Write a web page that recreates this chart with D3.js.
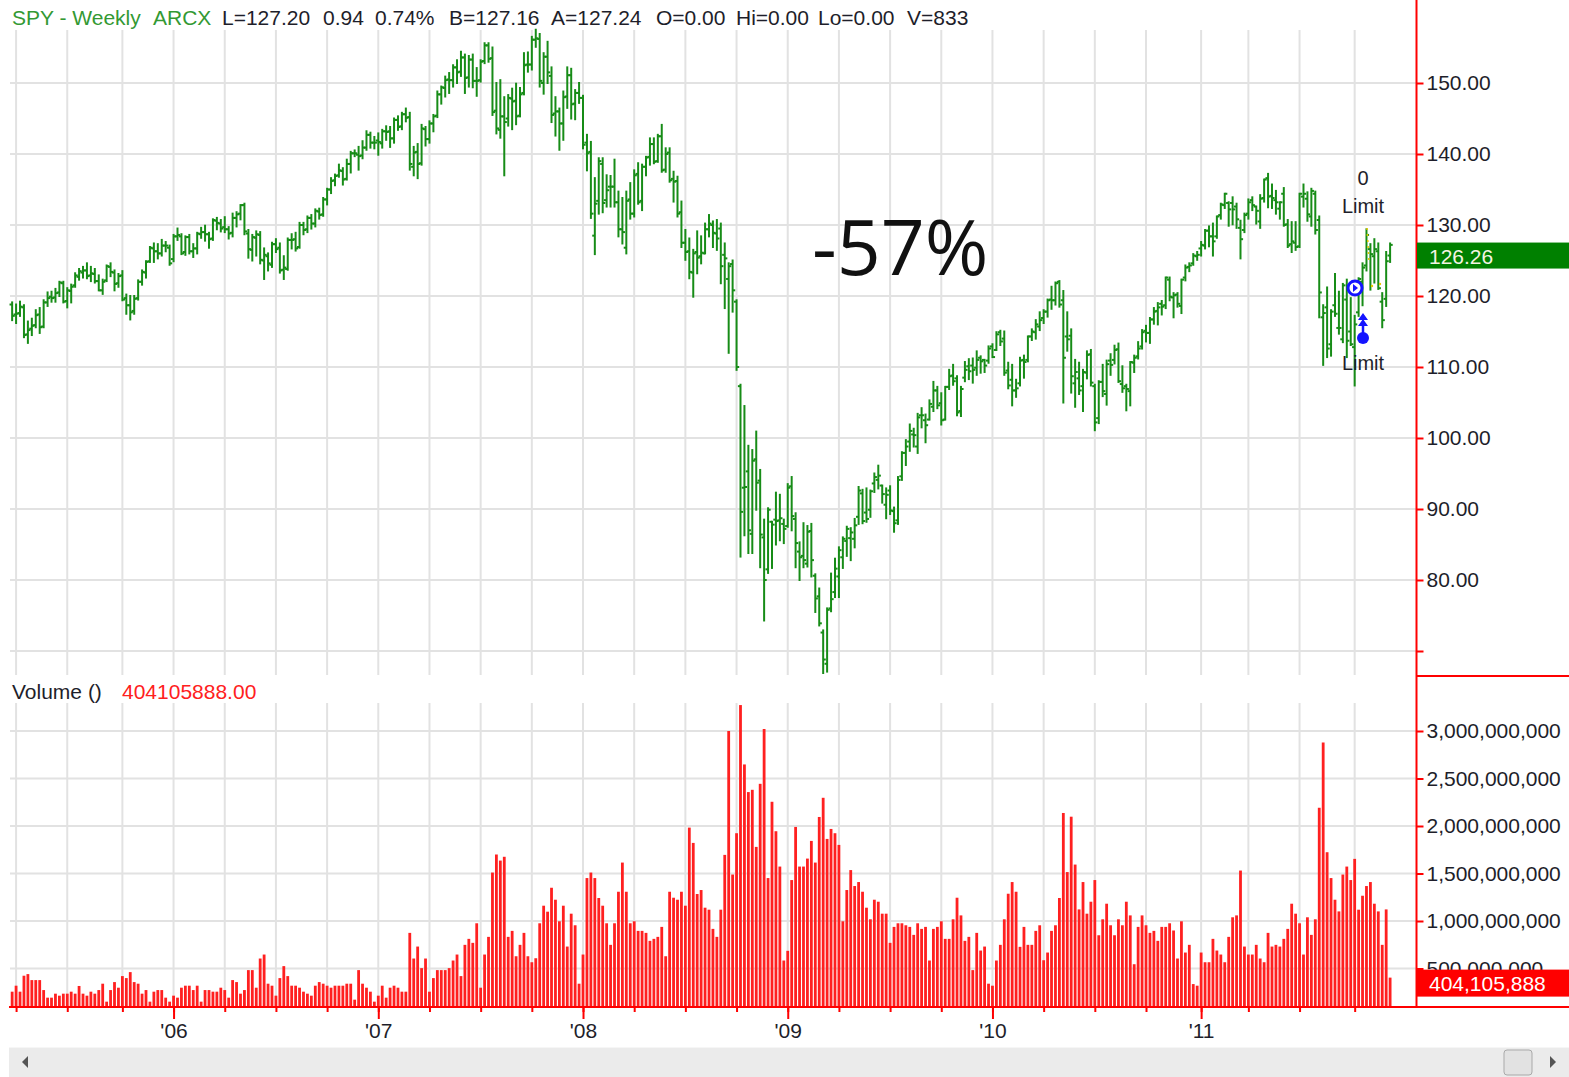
<!DOCTYPE html>
<html>
<head>
<meta charset="utf-8">
<script src="https://cdn.jsdelivr.net/npm/d3@7"></script>
<style>
  html, body { margin: 0; padding: 0; background: #fff; }
  svg { display: block; }
</style>
</head>
<body>
<svg id="chart" width="1569" height="1077"></svg>
<script>
// weekly SPY bars, one value per week starting the week of Mar 21 2005
const opens = [
  // 2005
  118.8,117.4,117.6,118.4,114.6,115.4,115.9,117.4,115.7,119.1,119.9,119.8,120.5,121.8,119.3,120.7,121.5,122.7,123.3,123.6,122.9,123.1,122.1,120.8,122.2,124.1,123.3,121.8,122.9,119.7,118.7,117.9,119.7,122.0,123.3,124.9,126.7,126.3,126.0,127.1,126.8,
  // 2006
  125.2,128.4,128.4,126.2,128.3,126.3,126.7,128.7,129.0,128.7,128.1,130.6,130.2,129.7,129.4,128.9,131.0,131.6,132.8,128.8,126.5,128.2,128.6,125.0,125.6,124.4,127.3,126.8,123.7,123.8,127.9,128.0,126.9,130.0,129.4,131.0,130.2,131.9,131.5,133.6,135.0,136.3,137.0,137.6,136.5,138.6,140.1,139.9,139.8,140.9,142.7,141.6,
  // 2007
  141.9,141.5,143.2,143.2,142.2,144.8,143.9,145.6,145.2,138.2,140.3,138.7,143.5,142.1,144.3,145.4,148.4,149.3,150.5,150.4,152.2,151.6,153.6,150.8,153.3,150.3,150.4,153.1,155.3,153.5,146.1,143.4,145.3,145.0,147.8,147.5,145.4,148.6,152.6,152.6,156.1,156.2,150.0,153.7,151.0,145.7,146.0,144.3,148.1,151.1,147.1,148.6,
  // 2008
  147.9,141.6,140.3,128.5,133.4,138.6,133.5,135.4,135.4,133.2,129.4,126.8,133.6,131.6,137.2,133.4,138.2,139.6,141.4,139.0,142.5,137.8,140.2,136.5,136.2,131.8,127.5,126.3,123.3,126.2,125.6,126.0,129.4,130.0,128.8,129.5,125.8,122.4,124.5,119.2,107.3,93.0,95.3,86.5,97.0,94.0,86.0,81.5,88.2,88.5,88.4,87.9,
  // 2009
  87.6,93.2,88.6,84.0,83.4,82.3,86.9,80.6,77.7,72.6,68.2,76.0,78.3,80.5,83.2,85.5,85.9,85.8,88.9,92.2,89.5,89.9,93.6,94.1,93.3,90.6,92.6,89.7,88.4,94.6,97.9,99.5,100.5,98.8,103.2,102.5,102.6,104.4,106.7,104.9,102.6,107.2,108.8,108.4,103.8,108.5,110.1,110.2,109.9,111.3,111.0,110.9,112.9,
  // 2010
  112.4,114.9,114.0,109.5,108.2,106.7,107.7,111.0,111.0,114.3,114.9,115.7,116.9,117.8,119.5,119.4,122.0,119.4,114.3,114.4,107.7,108.4,107.3,109.2,111.8,107.3,102.8,107.9,106.2,110.9,111.0,112.5,107.6,107.3,106.6,110.6,111.5,112.9,115.1,114.8,116.7,117.9,118.9,118.7,122.3,119.8,120.2,118.6,122.6,124.1,124.6,125.6,
  // 2011
  126.7,127.1,129.2,128.4,128.4,131.4,132.8,133.1,133.1,132.6,129.6,129.3,131.6,133.5,132.6,130.5,133.8,136.6,134.1,133.5,132.3,134.4,130.1,127.3,127.5,127.0,134.0,133.7,131.2,134.4,130.7,117.0,118.4,113.2,118.7,115.5,113.9,119.5,115.0,112.8,117.7,122.0,124.3,126.6,125.6,126.3,119.2,119.6,125.7
];
const highs = [
  119.1,118.8,119.2,118.7,116.4,116.8,118.0,118.3,119.4,120.5,120.6,121.0,122.0,122.0,121.1,121.6,123.2,123.8,124.1,124.6,124.1,123.8,122.9,122.3,124.3,124.6,123.6,123.1,123.5,120.2,120.0,120.0,122.2,123.6,124.9,126.9,127.4,127.3,127.9,127.6,127.1,
  128.6,129.5,128.7,128.4,128.6,127.3,128.9,129.6,129.9,128.9,130.8,131.0,130.7,131.1,129.7,131.6,131.8,132.8,133.0,129.3,128.6,129.1,129.0,126.7,126.0,127.5,128.0,127.4,125.6,128.1,128.7,128.9,130.3,130.3,131.2,131.4,132.2,132.3,133.8,135.1,136.6,137.1,138.5,138.0,139.2,140.3,140.5,141.0,141.8,143.2,143.0,142.4,
  142.9,143.4,143.9,143.8,145.0,145.3,145.8,146.4,145.8,141.0,141.4,144.1,143.8,144.6,145.5,148.8,149.5,150.9,151.4,152.5,153.2,154.4,154.0,153.8,154.0,152.1,153.2,155.6,155.6,155.0,150.0,150.4,148.0,148.3,149.2,149.9,149.3,154.2,154.3,156.5,157.5,156.9,154.2,155.8,152.2,148.0,146.4,148.8,152.2,152.0,149.0,150.0,
  148.2,142.7,141.7,136.6,139.4,139.4,137.0,136.9,139.2,134.7,133.8,134.7,135.9,137.7,138.7,138.5,139.6,142.2,142.2,142.7,144.1,140.8,140.8,137.5,136.8,133.3,129.3,128.1,126.5,129.1,128.4,130.2,131.4,130.5,130.7,130.2,127.4,124.6,125.0,119.4,107.5,104.5,98.9,98.3,100.9,95.5,88.5,90.1,88.2,92.3,92.0,88.5,
  93.5,94.5,89.4,85.3,88.0,87.6,87.9,80.8,78.8,72.9,76.0,80.9,83.0,84.6,86.0,87.5,87.3,88.6,93.1,92.7,92.9,92.6,95.0,96.1,93.3,92.9,93.2,90.2,94.5,98.0,99.7,101.9,101.3,103.4,104.2,103.3,105.3,107.9,107.2,106.3,107.2,109.6,110.3,108.7,107.2,110.7,111.1,111.2,112.2,111.5,111.0,112.9,113.2,
  114.9,115.1,115.0,110.6,110.3,108.2,111.3,111.6,114.3,115.3,116.6,117.7,118.0,119.5,121.3,121.9,122.1,120.7,117.7,115.3,111.0,110.6,109.6,112.2,112.4,107.5,108.0,110.3,110.9,111.8,113.0,113.3,110.1,107.5,110.7,111.6,113.5,115.2,115.8,116.9,118.3,119.0,119.3,122.6,122.6,120.4,120.4,122.3,124.3,124.6,125.9,126.2,
  127.6,129.3,129.8,130.2,131.2,133.0,134.4,133.2,133.9,133.0,130.6,131.6,133.6,133.9,132.6,134.2,136.4,137.2,135.7,134.8,133.2,135.2,130.7,130.4,130.4,134.4,135.7,134.6,135.1,134.7,131.2,118.7,121.2,118.0,123.1,120.6,121.7,122.3,119.7,117.2,122.5,124.6,129.4,127.3,128.0,127.4,120.4,126.2,127.4
];
const lows = [
  116.6,116.2,117.2,114.2,113.4,114.5,115.6,114.8,115.6,118.6,119.2,119.2,120.0,119.1,118.4,119.1,121.3,122.3,122.6,122.5,122.1,121.9,120.8,120.3,122.1,122.8,120.8,121.3,119.4,117.5,116.7,117.5,119.5,121.6,122.6,124.8,124.8,125.3,125.7,126.3,124.4,
  124.9,127.9,125.9,125.8,126.0,125.5,126.0,128.2,127.8,126.8,127.9,129.4,129.1,129.0,128.1,128.4,129.8,130.8,128.7,125.4,125.0,125.7,124.6,122.4,123.6,124.1,126.2,123.3,122.4,123.7,126.7,126.4,126.8,128.7,129.0,129.5,129.8,130.9,131.3,132.9,134.5,135.6,136.8,135.7,136.4,137.4,139.7,137.8,139.4,140.6,140.9,140.8,
  139.9,140.9,142.0,141.0,141.6,143.4,143.5,144.6,137.8,137.0,136.6,138.5,141.2,141.6,143.2,145.2,147.1,148.1,148.6,149.5,150.0,151.0,148.6,149.5,149.4,148.2,150.2,152.8,153.0,145.5,142.9,142.3,137.0,144.0,143.5,144.2,145.3,148.4,151.6,151.9,155.1,149.5,148.5,150.0,144.5,142.6,140.6,142.0,146.5,145.0,144.9,147.2,
  140.8,137.7,131.0,125.9,131.6,131.8,132.6,132.6,132.6,128.4,127.4,126.0,130.9,131.2,133.0,132.1,137.0,138.5,138.7,138.9,137.5,137.5,136.1,133.3,131.2,126.9,125.1,122.5,119.9,123.2,124.6,126.0,128.4,126.9,126.5,121.8,118.3,112.0,117.8,109.6,83.3,86.3,83.8,83.8,89.9,81.8,74.3,81.0,81.7,85.0,85.6,85.2,
  87.5,87.0,81.8,80.0,81.8,81.9,80.5,75.5,73.6,66.9,67.1,75.6,77.6,77.6,81.7,83.4,82.8,84.6,87.9,88.0,88.2,88.9,92.4,92.9,90.9,88.7,89.3,86.8,87.9,94.1,96.2,98.2,98.8,97.9,101.5,99.4,102.6,103.8,104.2,101.9,102.6,106.9,107.5,103.2,103.1,108.0,108.3,107.8,108.9,109.2,109.3,110.6,111.4,
  112.4,113.1,108.9,107.0,104.6,105.8,107.4,108.5,110.8,113.8,114.0,115.2,116.2,117.1,118.2,118.8,118.5,105.0,112.3,106.4,104.4,106.2,103.8,108.4,107.4,101.1,102.1,105.9,104.7,108.9,110.5,107.9,106.5,103.9,104.6,109.3,111.2,112.6,113.6,113.4,116.1,116.0,117.4,118.3,119.4,117.0,118.5,117.6,122.2,123.5,124.4,125.1,
  125.7,126.7,127.0,125.7,128.2,130.9,132.4,129.9,130.1,129.6,125.3,129.0,130.9,132.1,130.2,129.6,133.3,132.5,132.4,131.6,130.9,129.9,126.9,126.2,126.5,126.9,132.6,130.6,129.9,128.8,117.0,110.3,111.4,111.6,117.2,114.7,113.5,111.4,113.1,107.4,117.2,118.7,123.6,120.9,121.9,121.0,115.6,118.6,124.8
];
const closes = [
  117.2,117.5,118.5,114.5,115.2,115.8,117.3,115.6,119.1,119.7,119.7,120.4,121.9,119.2,120.8,121.3,122.9,123.5,123.6,122.8,123.2,122.1,120.8,122.0,124.2,123.4,121.7,122.8,119.5,118.7,117.7,119.6,122.0,123.4,124.8,126.8,126.3,126.0,127.1,127.1,124.6,
  128.4,128.6,126.0,128.3,126.3,126.7,128.8,129.0,128.7,128.0,130.7,130.3,129.5,129.4,128.8,131.0,131.5,132.8,129.1,126.6,128.3,128.7,125.1,125.8,124.6,127.3,126.6,123.6,124.0,127.9,127.9,126.7,130.0,129.3,131.0,130.2,132.0,131.4,133.6,135.0,136.2,136.9,137.7,136.4,138.6,140.1,140.1,139.7,140.9,142.7,141.6,141.6,
  141.7,143.2,143.1,142.2,144.8,143.8,145.6,145.1,138.6,140.2,138.6,143.6,142.1,144.3,145.3,148.4,149.4,150.4,150.4,152.2,151.5,153.6,150.7,153.3,150.3,150.3,153.0,155.3,153.4,145.9,143.6,145.3,144.5,147.9,147.4,145.3,148.4,152.5,152.6,156.1,156.3,150.3,153.7,151.5,145.5,146.0,144.3,148.0,151.1,147.0,148.6,147.9,
  141.3,140.1,131.6,133.0,139.0,133.1,134.9,135.4,133.2,129.4,129.0,133.4,131.6,137.0,133.2,138.2,139.5,141.4,138.9,142.5,137.7,140.0,136.3,136.1,131.6,127.5,126.2,123.4,126.0,125.4,126.1,129.4,130.2,128.9,128.1,124.2,125.3,124.2,120.8,110.0,89.6,93.1,87.0,96.8,93.7,86.4,80.0,89.9,87.8,88.3,88.7,87.2,
  93.0,89.0,85.2,83.2,82.8,86.8,82.8,77.4,73.9,68.8,75.8,77.3,81.6,84.2,85.8,87.2,86.7,87.7,92.6,88.3,88.6,92.5,94.5,94.7,92.1,92.0,89.8,88.0,94.1,97.9,98.8,101.0,100.4,102.9,103.2,101.8,104.8,106.7,104.6,102.5,107.2,108.7,108.0,103.6,106.9,109.6,109.4,109.6,111.0,110.8,110.2,112.6,111.4,
  114.6,113.6,109.2,107.4,106.7,107.0,110.9,110.7,114.3,115.0,116.0,116.6,117.8,119.4,119.4,121.8,118.8,111.3,113.9,108.7,109.3,106.7,109.3,111.7,107.8,102.2,107.9,106.6,110.4,110.3,112.4,108.0,107.0,106.9,110.7,111.3,112.6,114.9,114.8,116.7,117.8,118.4,118.5,122.6,119.9,120.1,118.9,122.3,124.0,124.3,125.7,125.8,
  127.2,129.2,128.4,127.7,131.2,132.9,134.4,132.2,132.2,130.8,128.0,131.4,133.2,132.8,132.0,133.7,136.4,134.0,133.8,133.2,133.2,130.0,127.1,127.7,126.9,134.4,134.4,131.5,134.8,129.3,120.5,117.6,112.6,117.8,117.5,115.5,121.5,113.7,113.2,116.0,122.4,124.0,128.6,125.9,126.6,121.1,116.6,124.9,127.2
];
// weekly volume, millions of shares
const volumes = [
  256,319,256,424,441,378,378,378,273,193,193,235,214,235,235,256,235,316,235,214,256,235,273,340,151,273,357,298,420,399,462,357,340,235,273,151,256,273,273,193,151,
  214,193,298,319,319,273,319,151,273,273,256,256,298,273,193,378,357,235,273,483,483,298,605,647,340,319,214,399,525,420,319,319,298,256,235,214,319,357,340,319,298,319,319,319,340,340,172,483,340,298,256,151,
  214,319,193,298,319,298,256,256,875,605,731,504,605,256,399,483,483,483,504,584,647,420,749,812,770,976,298,647,833,1510,1700,1636,1676,833,896,629,749,875,629,566,608,976,1161,1098,1350,1224,997,1161,731,1077,955,340,
  647,1452,1510,1452,1242,1161,976,749,976,1308,1615,1308,976,997,896,896,875,791,812,833,938,629,1308,1245,1224,1308,1161,1983,1822,1284,1326,1140,1119,917,833,1119,1696,3000,1489,1924,3273,2648,2357,2381,1780,2444,3021,1452,2255,1945,1573,584,
  686,1431,1990,1573,1573,1657,1843,1615,2095,2297,1864,1969,1924,1801,997,1326,1536,1368,1410,1308,1140,1018,1224,1203,1077,1077,770,938,976,976,955,938,854,976,917,938,584,917,938,997,812,812,1018,1245,1059,791,833,483,875,689,731,340,319,
  584,749,1018,1287,1410,1308,728,938,749,749,896,955,587,668,896,955,1242,2137,1515,2098,1594,1122,1410,1077,1203,1431,850,1018,1182,955,850,1018,955,1203,1059,545,938,1059,955,875,896,791,938,938,976,900,605,997,668,749,336,319,
  668,566,566,812,689,647,566,833,1039,1059,1531,731,647,647,749,605,566,875,731,749,731,812,917,1182,1077,976,647,1039,854,1018,2192,2879,1724,1452,1224,1101,1489,1573,1431,1654,1119,1266,1368,1410,1182,1101,749,1122,404
];

const priceTicks = [70, 80, 90, 100, 110, 120, 130, 140, 150];
const volumeTicks = [500e6, 1000e6, 1500e6, 2000e6, 2500e6, 3000e6];
const yearLabels = ["'06", "'07", "'08", "'09", "'10", "'11"];

const headerItems = [
  { text: "SPY - Weekly", x: 12, green: true },
  { text: "ARCX", x: 153, green: true },
  { text: "L=127.20", x: 222 },
  { text: "0.94", x: 323 },
  { text: "0.74%", x: 375 },
  { text: "B=127.16", x: 449 },
  { text: "A=127.24", x: 551 },
  { text: "O=0.00", x: 656 },
  { text: "Hi=0.00", x: 736 },
  { text: "Lo=0.00", x: 818 },
  { text: "V=833", x: 907 }
];
const lastPrice = 126.26;
const lastVolume = 404105888;

const font = "'Liberation Sans', Arial, sans-serif";
const green = "#178c17";
const red = "#ff0000";
const gridColor = "#e2e2e2";
const textDark = "#1e1e2a";
const axisX = 1416.5;

const svg = d3.select("#chart");

const weeks = d3.timeMonday.range(new Date(2005, 2, 21), new Date(2011, 11, 6)).slice(0, closes.length);
const bars = weeks.map((d, i) => ({
  date: d, o: opens[i], h: highs[i], l: lows[i], c: closes[i], v: volumes[i] * 1e6
}));

const x = d3.scaleTime()
  .domain([new Date(2006, 0, 1), new Date(2011, 0, 1)])
  .range([173, 1200]);
const yP = d3.scaleLinear().domain([70, 150]).range([651, 83]);
const yV = d3.scaleLinear().domain([500e6, 3000e6]).range([968.5, 731]);

// grid lines sit on the week holding the first trading day of each quarter
function firstTradingWeek(q) {
  let d = q;
  while (d.getDay() === 0 || d.getDay() === 6) d = d3.timeDay.offset(d, 1);
  return d3.timeMonday.floor(d);
}
const quarters = d3.timeMonth.every(3).range(new Date(2005, 3, 1), new Date(2012, 0, 1));
const quarterWeeks = quarters.map(firstTradingWeek);
const yearWeeks = quarters.filter(q => q.getMonth() === 0).map(firstTradingWeek);

// ---- grid
const grid = svg.append("g").attr("stroke", gridColor).attr("stroke-width", 2);
grid.selectAll(".vp").data(quarterWeeks).join("line").attr("class", "vp")
  .attr("x1", d => x(d)).attr("x2", d => x(d)).attr("y1", 30).attr("y2", 675);
grid.selectAll(".vv").data(quarterWeeks).join("line").attr("class", "vv")
  .attr("x1", d => x(d)).attr("x2", d => x(d)).attr("y1", 703).attr("y2", 1006);
grid.selectAll(".hp").data(priceTicks).join("line").attr("class", "hp")
  .attr("x1", 10).attr("x2", axisX).attr("y1", d => yP(d)).attr("y2", d => yP(d));
grid.selectAll(".hv").data(volumeTicks).join("line").attr("class", "hv")
  .attr("x1", 10).attr("x2", axisX).attr("y1", d => yV(d)).attr("y2", d => yV(d));

// ---- volume bars
svg.append("g").selectAll("rect").data(bars).join("rect")
  .attr("x", d => x(d.date) - 1.4)
  .attr("width", 2.8)
  .attr("y", d => yV(d.v))
  .attr("height", d => 1006 - yV(d.v))
  .attr("fill", "#ff2020");

// ---- price OHLC bars
const ohlc = svg.append("g").attr("stroke", green).attr("stroke-width", 2).attr("fill", "none");
const bar = ohlc.selectAll("g").data(bars).join("g");
bar.append("line")
  .attr("x1", d => x(d.date)).attr("x2", d => x(d.date))
  .attr("y1", d => yP(d.h) - 1).attr("y2", d => yP(d.l) + 1);
bar.append("line")
  .attr("x1", d => x(d.date) - 2.6).attr("x2", d => x(d.date))
  .attr("y1", d => yP(d.o)).attr("y2", d => yP(d.o));
bar.append("line")
  .attr("x1", d => x(d.date)).attr("x2", d => x(d.date) + 2.6)
  .attr("y1", d => yP(d.c)).attr("y2", d => yP(d.c));

// ---- axes
function styleAxis(g) {
  g.attr("font-family", font).attr("font-size", 21);
  g.select(".domain").remove();
  g.selectAll(".tick line").attr("stroke", red).attr("stroke-width", 2);
  g.selectAll(".tick text").attr("fill", textDark);
}
svg.append("g").attr("transform", `translate(${axisX},0)`)
  .call(d3.axisRight(yP).tickValues(priceTicks).tickSize(7).tickPadding(3)
    .tickFormat(d => d === 70 ? "" : d3.format(".2f")(d)))
  .call(styleAxis);
svg.append("g").attr("transform", `translate(${axisX},0)`)
  .call(d3.axisRight(yV).tickValues(volumeTicks).tickSize(7).tickPadding(3)
    .tickFormat(d3.format(",")))
  .call(styleAxis);
svg.append("g").attr("transform", "translate(0,1007)")
  .call(d3.axisBottom(x).tickValues(quarterWeeks).tickSize(5).tickFormat(""))
  .call(styleAxis);
svg.append("g").attr("transform", "translate(0,1007)")
  .call(d3.axisBottom(x).tickValues(yearWeeks).tickSize(12).tickPadding(4)
    .tickFormat((d, i) => yearLabels[i]))
  .call(styleAxis);

// axis frame lines
svg.append("line").attr("x1", axisX).attr("x2", axisX).attr("y1", 0).attr("y2", 1007)
  .attr("stroke", red).attr("stroke-width", 2);
svg.append("line").attr("x1", axisX).attr("x2", 1569).attr("y1", 676).attr("y2", 676)
  .attr("stroke", red).attr("stroke-width", 2);
svg.append("line").attr("x1", 9).attr("x2", 1569).attr("y1", 1007).attr("y2", 1007)
  .attr("stroke", red).attr("stroke-width", 2);

// ---- last value markers
svg.append("rect").attr("x", axisX + 0.5).attr("y", yP(lastPrice) - 9).attr("width", 1569 - axisX).attr("height", 26)
  .attr("fill", "#008000");
svg.append("text").attr("x", 1429).attr("y", yP(lastPrice) + 12)
  .attr("font-family", font).attr("font-size", 21).attr("fill", "#f4f4e2")
  .text(d3.format(".2f")(lastPrice));
svg.append("rect").attr("x", axisX + 0.5).attr("y", yV(lastVolume) - 8).attr("width", 1569 - axisX).attr("height", 27)
  .attr("fill", red);
svg.append("text").attr("x", 1429).attr("y", yV(lastVolume) + 13)
  .attr("font-family", font).attr("font-size", 21).attr("fill", "#fff")
  .text(d3.format(",")(lastVolume));

// ---- header texts
svg.append("g").selectAll("text").data(headerItems).join("text")
  .attr("x", d => d.x).attr("y", 25)
  .attr("font-family", font).attr("font-size", 21)
  .attr("fill", d => d.green ? "#339933" : textDark)
  .text(d => d.text);
svg.append("text").attr("x", 12).attr("y", 699)
  .attr("font-family", font).attr("font-size", 21).attr("fill", textDark).text("Volume ()");
svg.append("text").attr("x", 122).attr("y", 699)
  .attr("font-family", font).attr("font-size", 21).attr("fill", "#ff2020")
  .text(d3.format(".2f")(lastVolume));

// ---- annotation
svg.append("text").attr("x", 812).attr("y", 275)
  .attr("font-family", "'Open Sans', sans-serif").attr("font-size", 77).attr("fill", "#111")
  .text("-57%");

// ---- order markers
const orderX = 1363;
svg.append("g").attr("font-family", font).attr("font-size", 20).attr("fill", textDark)
  .attr("text-anchor", "middle")
  .selectAll("text").data([["0", 185], ["Limit", 213], ["Limit", 370]]).join("text")
  .attr("x", orderX).attr("y", d => d[1]).text(d => d[0]);

svg.append("polyline")
  .attr("points", "1367,228 1368,244 1369,262")
  .attr("fill", "none").attr("stroke", "#e6c800").attr("stroke-width", 1.5).attr("stroke-dasharray", "2,4");
svg.append("g").attr("fill", "#e6c800").selectAll("circle")
  .data([[1372, 286], [1380, 284]]).join("circle")
  .attr("cx", d => d[0]).attr("cy", d => d[1]).attr("r", 1.2);

svg.append("circle").attr("cx", 1355).attr("cy", 288).attr("r", 7)
  .attr("fill", "#fff").attr("stroke", "#1414ff").attr("stroke-width", 3);
svg.append("path").attr("d", "M1353,284 L1358,288 L1353,292 Z").attr("fill", "#1414ff");
svg.append("path")
  .attr("d", "M1363,313 L1358,320 L1368,320 Z M1363,319 L1358,326 L1368,326 Z")
  .attr("fill", "#1414ff");
svg.append("line").attr("x1", 1363).attr("x2", 1363).attr("y1", 324).attr("y2", 336)
  .attr("stroke", "#1414ff").attr("stroke-width", 2.5);
svg.append("circle").attr("cx", 1363).attr("cy", 338).attr("r", 6).attr("fill", "#1414ff");

// ---- scrollbar
svg.append("rect").attr("x", 9).attr("y", 1047).attr("width", 1560).attr("height", 30).attr("fill", "#ebebeb");
svg.append("line").attr("x1", 9).attr("x2", 1569).attr("y1", 1047.5).attr("y2", 1047.5).attr("stroke", "#f6f6f6");
svg.append("path").attr("d", "M22,1062 L28,1056 L28,1068 Z").attr("fill", "#555");
svg.append("path").attr("d", "M1556,1062 L1550,1056 L1550,1068 Z").attr("fill", "#555");
svg.append("rect").attr("x", 1504).attr("y", 1050).attr("width", 28).attr("height", 25).attr("rx", 3)
  .attr("fill", "#e2e2e2").attr("stroke", "#a9a9a9").attr("stroke-width", 1);
</script>
</body>
</html>
